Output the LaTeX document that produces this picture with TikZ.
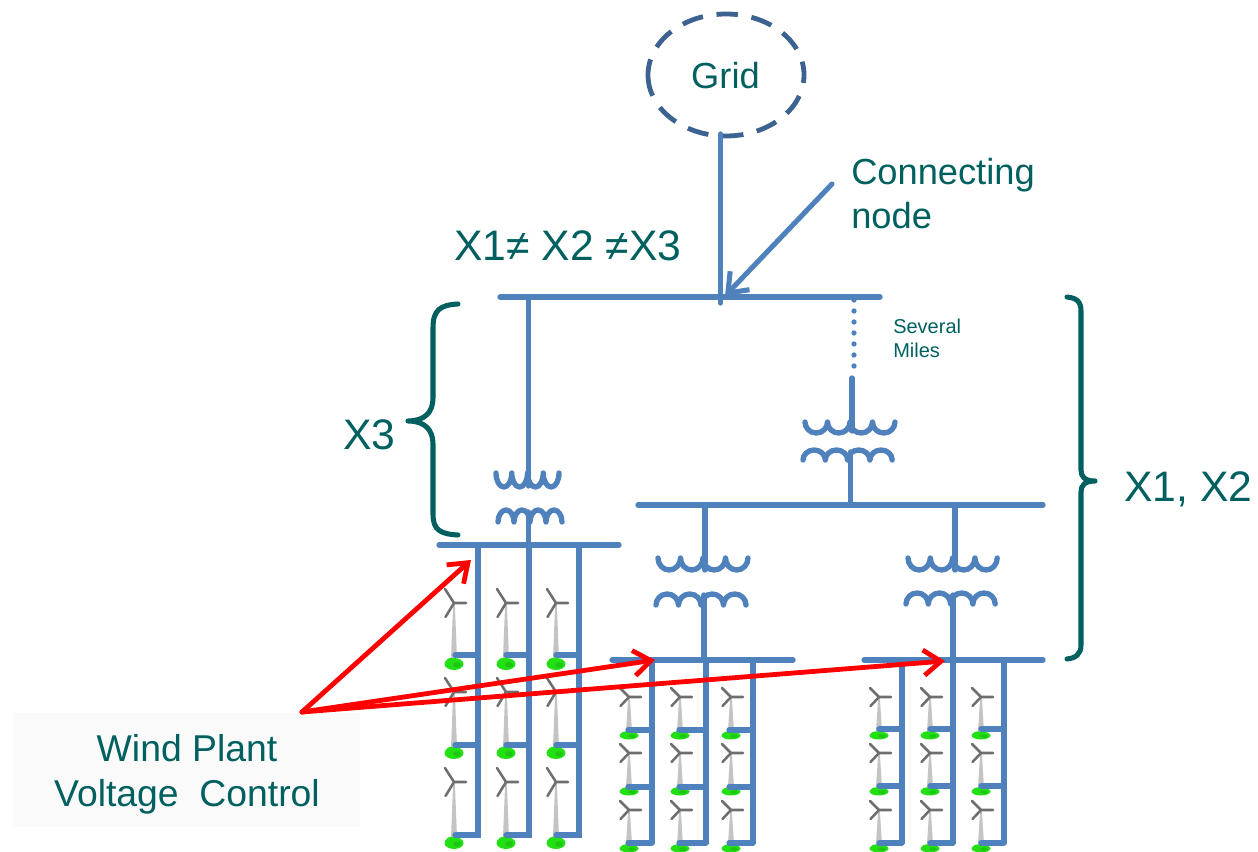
\documentclass[tikz,border=0pt]{standalone}
\usepackage{fontspec}
\setmainfont{Liberation Sans}
\usetikzlibrary{arrows.meta}
\definecolor{wire}{HTML}{4F81BD}
\definecolor{griddash}{HTML}{3B6291}
\definecolor{teal}{HTML}{00605F}
\definecolor{tower}{HTML}{C4C4C4}
\definecolor{blade}{HTML}{6E6E6E}
\definecolor{leaf}{HTML}{22E014}
\definecolor{boxgray}{HTML}{FAFAFA}
\tikzset{
  wireline/.style={draw=wire,line width=4pt,line cap=round,line join=round},
  bracket/.style={draw=teal,line width=3.8pt,line cap=round,line join=round},
  redarrow/.style={draw=red,line width=3.6pt,line cap=round,line join=round,-{Straight Barb[length=13pt,width=19pt,line width=3.6pt]}},
  bluearrow/.style={draw=wire,line width=3.8pt,line cap=round,-{Straight Barb[length=13pt,width=20pt,line width=3.8pt]}},
  biglabel/.style={text=teal,inner sep=0pt,font=\fontsize{28}{33}\selectfont},
  midlabel/.style={text=teal,inner sep=0pt,font=\fontsize{27.2}{33}\selectfont},
  hugelabel/.style={text=teal,inner sep=0pt,font=\fontsize{32}{38}\selectfont},
  smalllabel/.style={text=teal,inner sep=0pt,font=\fontsize{15}{18}\selectfont},
}
% #1 x of hub, #2 y of hub, #3 height of tower, #4 blade rise, #5 blob height
\newcommand{\windturbine}[5]{%
  \fill[tower] (#1-0.8,#2) -- (#1+0.8,#2) -- (#1+3,#2+#3) -- (#1-3,#2+#3) -- cycle;
  \draw[blade,line width=1.9pt,line cap=round] (#1-9,#2-#4) -- (#1,#2) -- (#1-8.5,#2+#4) (#1,#2) -- (#1+12,#2);
  \fill[leaf] (#1,#2+#3+#5*0.75+1.5) ellipse[x radius=9.5,y radius=#5];
  \fill[leaf] (#1-3,#2+#3+#5*0.4+1.5) ellipse[x radius=5,y radius=#5*0.7];
  \fill[leaf!88!black] (#1+3,#2+#3+#5*0.9+1.5) ellipse[x radius=4,y radius=#5*0.45];
}
% coil hanging down: #1 x0, #2 cusp y, #3 arc width, #4 depth
\newcommand{\coilup}[4]{%
  \draw[wireline] (#1,#2)
    \foreach \k in {0,1,2,3}{ arc[start angle=180,end angle=0,x radius=#3/2,y radius=#4] };
}
% coil arching up: #1 x0, #2 foot y, #3 arc width, #4 height
\newcommand{\coildown}[4]{%
  \draw[wireline] (#1,#2)
    \foreach \k in {0,1,2,3}{ arc[start angle=180,end angle=360,x radius=#3/2,y radius=#4] };
}
\begin{document}
\begin{tikzpicture}[x=0.75pt,y=-0.75pt]
\useasboundingbox (0,0) rectangle (1258,852);
% wind plant label
\node[fill=boxgray,minimum width=260.25pt,minimum height=85.5pt,inner sep=0pt] (wpbox) at (186.5,770) {};
\node[biglabel,anchor=base] (wp1) at (187,761) {Wind Plant};
\node[biglabel,anchor=base] (wp2) at (187,806) {Voltage\ \ Control};
% turbines
\foreach \x in {454,506,556}\foreach \y in {603,692,782}{\windturbine{\x}{\y}{55}{14}{6}}
\foreach \x in {629,680,731}\foreach \y in {697,753,810}{\windturbine{\x}{\y}{34}{9}{4}}
\foreach \x in {879,930,981}\foreach \y in {697,753,810}{\windturbine{\x}{\y}{34}{9}{4}}
% grid
\node[midlabel,anchor=base] (grid) at (725.5,88.5) {Grid};
\draw[griddash,line width=3.6pt,dash pattern=on 16.1pt off 10.3pt] (648,75) arc[start angle=180,end angle=-180,x radius=78,y radius=61];
% named points
\coordinate (gridS) at (720.5,134);
\coordinate (busTW) at (500,297);
\coordinate (busTE) at (880,297);
\coordinate (busTM) at (720.5,303);
\coordinate (busLW) at (439,545);
\coordinate (busLE) at (619,545);
\coordinate (busMW) at (638,505);
\coordinate (busME) at (1043,505);
\coordinate (busAW) at (612,660);
\coordinate (busAE) at (793,660);
\coordinate (busBW) at (864,660);
\coordinate (busBE) at (1043,660);
% buses
\draw[wireline] (gridS) -- (busTM);
\draw[wireline] (busTW) -- (busTE);
\draw[wireline] (busLW) -- (busLE);
\draw[wireline] (busMW) -- (busME);
\draw[wireline] (busAW) -- (busAE);
\draw[wireline] (busBW) -- (busBE);
% left transformer
\draw[wireline] (528.5,297) -- (528.5,486);
\coilup{496}{473}{15.75}{14}
\coildown{498}{522}{16}{12}
\draw[wireline] (528.5,512) -- (528.5,545);
% far transformer
\draw[wireline,dash pattern=on 0pt off 8.25pt] (854,300) -- (854,366);
\draw[wireline] (852,378) -- (852,431);
\coilup{805}{422}{22.5}{11}
\coildown{803}{460}{22.3}{10}
\draw[wireline] (850.5,452) -- (850.5,505);
% middle transformer
\draw[wireline] (705,505) -- (705,570);
\coilup{658}{558}{22.5}{12}
\coildown{656}{605}{22.5}{11}
\draw[wireline] (704,595) -- (704,660);
% right transformer
\draw[wireline] (955,505) -- (955,570);
\coilup{908}{558}{22.3}{12}
\coildown{906}{604}{22.3}{11}
\draw[wireline] (953,595) -- (953,660);
% feeder columns
\foreach \xc/\xb in {478/455,529/506,579/556}{
  \draw[wireline,line cap=butt] (\xc,545) -- (\xc,838);
  \foreach \yb in {655,745,835}{\draw[wireline] (\xb,\yb) -- (\xc,\yb);}
}
\foreach \xc/\xb in {652/628,706/679,753/729}{
  \draw[wireline,line cap=butt] (\xc,660) -- (\xc,844);
  \foreach \yb in {730,787,843}{\draw[wireline] (\xb,\yb) -- (\xc,\yb);}
}
\foreach \xc/\xb in {902/879,953/930,1004/981}{
  \draw[wireline,line cap=butt] (\xc,660) -- (\xc,844);
  \foreach \yb in {729,786,843}{\draw[wireline] (\xb,\yb) -- (\xc,\yb);}
}
% connecting node
\node[midlabel,anchor=base west] (conn1) at (851,185) {Connecting};
\node[midlabel,anchor=base west] (conn2) at (851,229) {node};
\coordinate (connTail) at (832,184);
\coordinate (connTip) at (725,296);
\draw[bluearrow] (connTail) -- (connTip);
\node[hugelabel,anchor=base west] (neq) at (454,261) {X1≠ X2 ≠X3};
\node[smalllabel,anchor=base west] (sev1) at (893,334) {Several};
\node[smalllabel,anchor=base west] (sev2) at (893,358) {Miles};
% braces
\draw[bracket] (458,304) .. controls (440,305) and (433,310) .. (433,328) -- (433,398)
  .. controls (433,412) and (425,421) .. (408,421)
  .. controls (425,421) and (433,430) .. (433,444) -- (433,514)
  .. controls (433,530) and (440,534) .. (458,535);
\node[hugelabel,anchor=base west] (x3) at (343,450) {X3};
\draw[bracket] (1067,297) .. controls (1076,298) and (1081,301) .. (1081,311) -- (1081,470)
  .. controls (1081,477) and (1085,481) .. (1095,481)
  .. controls (1085,481) and (1081,485) .. (1081,492) -- (1081,645)
  .. controls (1081,654) and (1076,658) .. (1067,659);
\node[hugelabel,anchor=base west] (x12) at (1124,502) {X1, X2};
% red arrows
\coordinate (redO) at (302,712);
\coordinate (redA) at (471,560);
\coordinate (redB) at (655,660);
\coordinate (redC) at (945,661);
\draw[redarrow] (redO) -- (redA);
\draw[redarrow] (redO) -- (redB);
\draw[redarrow] (redO) -- (redC);
\end{tikzpicture}
\end{document}
